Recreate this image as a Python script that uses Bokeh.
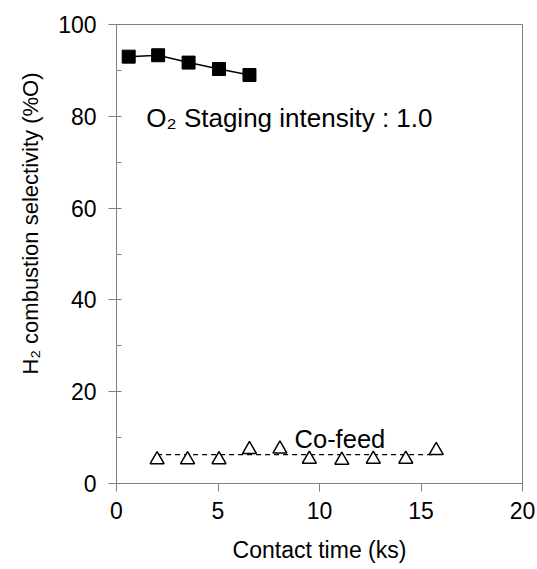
from bokeh.plotting import figure
from bokeh.models import Range1d, SingleIntervalTicker, FixedTicker, Label, Title
from bokeh.embed import file_html
from bokeh.resources import INLINE

# ---- data ----
staged_x = [0.6, 2.05, 3.55, 5.05, 6.55]
staged_y = [93.0, 93.3, 91.7, 90.3, 89.0]

cofeed_x = [2.0, 3.5, 5.05, 6.55, 8.05, 9.5, 11.1, 12.65, 14.25, 15.75]
cofeed_y = [5.2, 5.2, 5.2, 7.4, 7.5, 5.3, 5.1, 5.3, 5.3, 7.2]

cofeed_trend_x = [2.0, 15.75]
cofeed_trend_y = [6.3, 6.3]

x_ticks = [0, 5, 10, 15, 20]
y_ticks = [0, 20, 40, 60, 80, 100]

FONT = "Liberation Sans"
AXIS_GRAY = "#808080"

p = figure(width=537, height=569, output_backend="svg", toolbar_location=None,
           x_range=Range1d(0, 20), y_range=Range1d(0, 100),
           min_border_left=116, min_border_right=15, min_border_top=24, min_border_bottom=86)

p.background_fill_color = "white"
p.border_fill_color = "white"
p.outline_line_color = AXIS_GRAY
p.outline_line_width = 1
p.xgrid.grid_line_color = None
p.ygrid.grid_line_color = None

# x axis
xa = p.xaxis[0]
xa.ticker = FixedTicker(ticks=x_ticks)
xa.axis_line_color = AXIS_GRAY
xa.major_tick_line_color = AXIS_GRAY
xa.major_tick_in = 0
xa.major_tick_out = 8
xa.minor_tick_line_color = None
xa.major_label_text_font = FONT
xa.major_label_text_font_size = "23px"
xa.major_label_text_color = "black"
xa.major_label_standoff = 10
xa.axis_label = "Contact time (ks)"
xa.axis_label_text_font = FONT
xa.axis_label_text_font_size = "23px"
xa.axis_label_text_font_style = "normal"
xa.axis_label_text_color = "black"
xa.axis_label_standoff = 15

# y axis
ya = p.yaxis[0]
ya.ticker = SingleIntervalTicker(interval=20, num_minor_ticks=2)
ya.axis_line_color = AXIS_GRAY
ya.major_tick_line_color = AXIS_GRAY
ya.minor_tick_line_color = AXIS_GRAY
ya.major_tick_in = 0
ya.major_tick_out = 8
ya.minor_tick_in = 5
ya.minor_tick_out = 0
ya.major_label_text_font = FONT
ya.major_label_text_font_size = "23px"
ya.major_label_text_color = "black"
ya.major_label_standoff = 12

# y axis title, shifted up as in the reference
p.add_layout(Title(text="H₂ combustion selectivity (%O)", align="right", offset=48,
                   text_font=FONT, text_font_size="22px", text_font_style="normal",
                   text_color="black", standoff=26), "left")

# staged series
p.line(staged_x, staged_y, line_color="black", line_width=1.5)
p.scatter(staged_x, staged_y, marker="square", size=13, fill_color="black", line_color="black")

# co-feed series
p.line(cofeed_trend_x, cofeed_trend_y, line_color="black", line_width=1.3, line_dash="5 4")
p.scatter(cofeed_x, cofeed_y, marker="triangle", size=14, fill_color="white",
          line_color="black", line_width=1.5)

# annotations
p.add_layout(Label(x=1.47, y=79.7, text="O₂ Staging intensity : 1.0",
                   text_font=FONT, text_font_size="26px", text_color="black",
                   text_align="left", text_baseline="alphabetic"))
p.add_layout(Label(x=8.77, y=9.6, text="Co-feed",
                   text_font=FONT, text_font_size="25.5px", text_color="black",
                   text_align="left", text_baseline="alphabetic"))

open("out.html", "w").write(file_html(p, INLINE))
